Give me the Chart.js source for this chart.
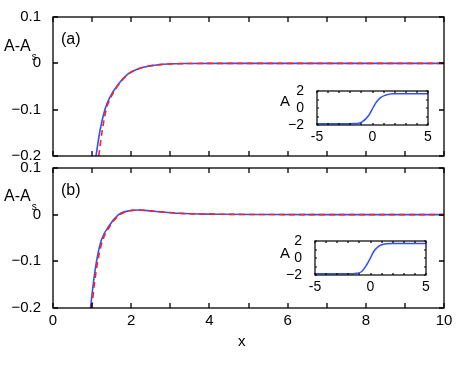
<!DOCTYPE html>
<html>
<head>
<meta charset="utf-8">
<script src="https://cdn.jsdelivr.net/npm/chart.js@4.4.1/dist/chart.umd.min.js"></script>
<style>
  html, body { margin: 0; padding: 0; background: #fff; }
  body { width: 469px; height: 375px; position: relative; overflow: hidden; }
  canvas { position: absolute; }
  .inset { z-index: 2; }
</style>
</head>
<body>
<canvas id="panelA" width="469" height="169" style="left:0;top:0"></canvas>
<canvas id="panelB" width="469" height="215" style="left:0;top:155px"></canvas>
<canvas id="insetA" class="inset" width="170" height="70" style="left:270px;top:78px"></canvas>
<canvas id="insetB" class="inset" width="170" height="70" style="left:268px;top:228px"></canvas>

<script>
// main panels: x from 0 to 10, A - A_s from -0.2 to 0.1
const xTickLabels = ['0', '2', '4', '6', '8', '10'];
const yTickLabels = ['\u22120.2', '\u22120.1', '0', '0.1'];

// (a)
const blueA_x = [1.10, 1.20, 1.33, 1.45, 1.67, 1.92, 2.17, 2.52, 2.94, 3.5, 4.5, 6, 8, 10];
const blueA_y = [-0.2, -0.146, -0.099, -0.074, -0.045, -0.023, -0.012, -0.005, -0.0015, -0.0004, 0, 0, 0, 0];
const redA_x  = [1.17, 1.25, 1.36, 1.47, 1.68, 1.93, 2.17, 2.52, 2.94, 3.5, 4.5, 6, 8, 10];
const redA_y  = [-0.2, -0.15, -0.1, -0.075, -0.046, -0.023, -0.012, -0.005, -0.0015, -0.0004, 0, 0, 0, 0];

// (b)
const blueB_x = [0.96, 1.03, 1.12, 1.24, 1.45, 1.67, 1.84, 2.18, 2.52, 3.2, 4.2, 5.5, 7, 10];
const blueB_y = [-0.2, -0.148, -0.097, -0.054, -0.022, -0.0006, 0.0065, 0.010, 0.008, 0.003, 0.001, 0.0003, 0, 0];
const redB_x  = [0.99, 1.06, 1.15, 1.27, 1.47, 1.69, 1.86, 2.18, 2.52, 3.2, 4.2, 5.5, 7, 10];
const redB_y  = [-0.2, -0.148, -0.097, -0.055, -0.023, -0.001, 0.006, 0.010, 0.008, 0.003, 0.001, 0.0003, 0, 0];

// insets: A against x from -5 to 5
const insetXLabels = ['-5', '0', '5'];
const insetYLabels = ['\u22122', '0', '2'];
const insA_x = [-5, -3, -1.6, -1.23, -0.93, -0.33, -0.03, 0.27, 0.72, 1.17, 1.77, 3, 5];
const insA_y = [-1.85, -1.85, -1.83, -1.8, -1.64, -0.84, -0.14, 0.57, 1.26, 1.55, 1.72, 1.73, 1.73];
const insB_x = [-5, -3, -1.6, -1.25, -0.79, -0.34, -0.05, 0.25, 0.70, 1.15, 1.9, 3, 5];
const insB_y = [-1.86, -1.86, -1.84, -1.8, -1.58, -0.78, -0.09, 0.71, 1.37, 1.65, 1.76, 1.76, 1.76];

const BLUE = 'rgb(48,80,255)';
const RED = 'rgb(255,32,32)';
const FONT = '"Liberation Sans", Arial, sans-serif';

Chart.defaults.font.family = FONT;
Chart.defaults.color = '#000';

const pts = (xs, ys) => xs.map((x, i) => ({ x: x, y: ys[i] }));

// box around the plot area with inward ticks on all four sides (matlab look)
const boxTicks = {
  id: 'boxTicks',
  afterDraw(chart, args, opts) {
    const { ctx, chartArea: a, scales } = chart;
    const len = opts.len || 5;
    const L = Math.round(a.left), R = Math.round(a.right);
    const T = Math.round(a.top), B = Math.round(a.bottom);
    ctx.save();
    ctx.setLineDash([]);
    ctx.strokeStyle = '#000';
    ctx.lineWidth = opts.width || 1;
    ctx.strokeRect(L, T, R - L, B - T);
    ctx.beginPath();
    scales.x.ticks.forEach(t => {
      const px = Math.round(scales.x.getPixelForValue(t.value));
      ctx.moveTo(px, B); ctx.lineTo(px, B - len);
      ctx.moveTo(px, T); ctx.lineTo(px, T + len);
    });
    scales.y.ticks.forEach(t => {
      const py = Math.round(scales.y.getPixelForValue(t.value));
      ctx.moveTo(L, py); ctx.lineTo(L + len, py);
      ctx.moveTo(R, py); ctx.lineTo(R - len, py);
    });
    ctx.stroke();
    ctx.restore();
  }
};

// free text of each panel: axis names and panel tags
const panelText = {
  id: 'panelText',
  afterDraw(chart, args, opts) {
    const ctx = chart.ctx;
    ctx.save();
    ctx.fillStyle = '#000';
    ctx.textBaseline = 'alphabetic';
    ctx.textAlign = 'left';
    (opts.items || []).forEach(it => {
      ctx.font = it.size + 'px ' + FONT;
      ctx.fillText(it.text, it.x, it.y);
      if (it.sub) {
        const w = ctx.measureText(it.text).width;
        ctx.font = '10px ' + FONT;
        ctx.fillText(it.sub, it.x + w + 1, it.y + 9.5);
      }
    });
    ctx.restore();
  }
};

function insetChart(id, data, textItems) {
  return new Chart(document.getElementById(id), {
    type: 'line',
    data: { datasets: [{ data: data, borderColor: BLUE, borderWidth: 1.5 }] },
    options: {
      responsive: false,
      animation: false,
      layout: { padding: { top: 9, right: 12, left: 0, bottom: 0 } },
      elements: { point: { radius: 0 }, line: { cubicInterpolationMode: 'monotone' } },
      plugins: {
        legend: { display: false }, tooltip: { enabled: false },
        boxTicks: { len: 2, width: 1.2 }, panelText: { items: textItems }
      },
      scales: {
        x: {
          type: 'linear', min: -5, max: 5,
          grid: { display: false },
          border: { display: false },
          ticks: {
            stepSize: 1, autoSkip: false, maxRotation: 0, padding: -4, font: { size: 14 },
            callback: v => (v % 5 === 0 ? insetXLabels[(v + 5) / 5] : '')
          },
          afterFit: s => { s.height = 23; }
        },
        y: {
          min: -2, max: 2,
          grid: { display: false },
          border: { display: false },
          ticks: {
            stepSize: 1, padding: 5, autoSkip: false, font: { size: 14 },
            callback: v => (v % 2 === 0 ? insetYLabels[(v + 2) / 2] : '')
          },
          afterFit: s => { s.width = 47; }
        }
      }
    },
    plugins: [boxTicks, panelText]
  });
}

function mainChart(id, red, blue, showX, padTop, xHeight, textItems) {
  return new Chart(document.getElementById(id), {
    type: 'line',
    data: {
      datasets: [
        { data: red, borderColor: RED, borderWidth: 1.6, borderDash: [6, 4] },
        { data: blue, borderColor: BLUE, borderWidth: 1.6 }
      ]
    },
    options: {
      responsive: false,
      animation: false,
      layout: { padding: { top: padTop, right: 25, left: 0, bottom: 0 } },
      elements: { point: { radius: 0 }, line: { cubicInterpolationMode: 'monotone' } },
      plugins: {
        legend: { display: false }, tooltip: { enabled: false },
        boxTicks: { len: 5, width: 1.3 }, panelText: { items: textItems }
      },
      scales: {
        x: {
          type: 'linear', min: 0, max: 10,
          grid: { display: false },
          border: { display: false },
          ticks: {
            display: showX, stepSize: 1, autoSkip: false, maxRotation: 0, padding: -4,
            font: { size: 15 },
            callback: v => (v % 2 === 0 ? xTickLabels[v / 2] : '')
          },
          afterFit: s => { s.height = xHeight; }
        },
        y: {
          min: -0.2, max: 0.1,
          grid: { display: false },
          border: { display: false },
          ticks: {
            stepSize: 0.1, padding: 4, autoSkip: false, font: { size: 15 },
            callback: (v, i) => yTickLabels[i]
          },
          afterFit: s => { s.width = 53; }
        }
      }
    },
    plugins: [boxTicks, panelText]
  });
}

mainChart('panelA', pts(redA_x, redA_y), pts(blueA_x, blueA_y), false, 17, 8, [
  { text: 'A-A', sub: 's', size: 16, x: 4, y: 50.5 },
  { text: '(a)', size: 16, x: 61, y: 44 }
]);
mainChart('panelB', pts(redB_x, redB_y), pts(blueB_x, blueB_y), true, 13, 62, [
  { text: 'A-A', sub: 's', size: 16, x: 4, y: 45.5 },
  { text: '(b)', size: 16, x: 61, y: 40 },
  { text: 'x', size: 15, x: 238, y: 190.5 }
]);
insetChart('insetA', pts(insA_x, insA_y), [{ text: 'A', size: 15, x: 10, y: 28 }]);
insetChart('insetB', pts(insB_x, insB_y), [{ text: 'A', size: 15, x: 12, y: 29.7 }]);
</script>
</body>
</html>
